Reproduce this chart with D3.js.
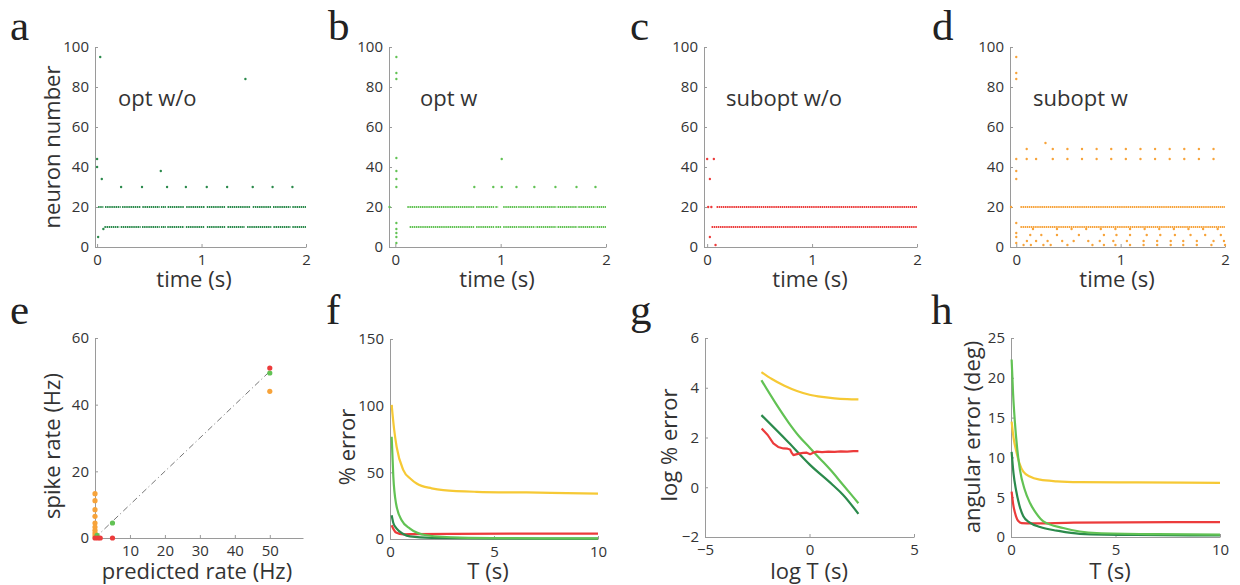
<!DOCTYPE html>
<html>
<head>
<meta charset="utf-8">
<title>Raster and error panels</title>
<script src="https://d3js.org/d3.v7.min.js"></script>
<style>
  body { margin: 0; background: #fff; }
  text { font-family: "Open Sans", sans-serif; fill: #333; }
  .letter { font-family: "Liberation Serif", serif; font-size: 43px; fill: #222; }
</style>
</head>
<body>
<script>
// colours of the four networks
const darkGreen = "#2b8a4c", lightGreen = "#62c254", red = "#ec3b3b", orange = "#f7a33a", yellow = "#f6c935";

// ---- raster data: rows = [neuron, [[t0, t1], ...]] dense spike trains, dots = [t, neuron]
const rowsA = [
  [20, [[0.01, 0.06], [0.076, 0.226], [0.239, 0.417], [0.433, 0.60], [0.611, 0.66], [0.675, 0.834], [0.853, 1.03], [1.05, 1.23], [1.248, 1.47], [1.49, 1.668], [1.684, 1.853], [1.869, 2.0]]],
  [10, [[0.07, 0.213], [0.226, 0.417], [0.43, 0.60], [0.611, 0.659], [0.672, 0.834], [0.85, 1.03], [1.051, 1.23], [1.248, 1.414], [1.436, 1.668], [1.688, 1.853], [1.869, 2.0]]]
];
const dotsA = [[0.03, 95], [0.0, 44], [0.0, 40], [0.045, 34], [0.01, 5], [0.06, 9], [1.42, 84], [0.61, 38],
  [0.23, 30], [0.43, 30], [0.67, 30], [0.85, 30], [1.05, 30], [1.245, 30], [1.49, 30], [1.68, 30], [1.87, 30]];

const rowsB = [
  [20, [[0.114, 0.754], [0.767, 0.938], [0.95, 0.976], [1.024, 1.157], [1.166, 1.33], [1.34, 1.528], [1.54, 1.727], [1.737, 1.901], [1.911, 2.0]]],
  [10, [[0.136, 0.754], [0.767, 0.938], [0.95, 1.005], [1.024, 1.157], [1.166, 1.33], [1.34, 1.528], [1.54, 1.727], [1.737, 1.901], [1.911, 2.0]]]
];
const dotsB = [[0.01, 95], [0.01, 87], [0.01, 84], [0.01, 44.5], [0.01, 38], [0.01, 34], [0.01, 30], [0.01, 12], [0.01, 9], [0.01, 7], [0.01, 5], [0.01, 2], [-0.055, 20],
  [0.75, 30], [0.93, 30], [1.01, 30], [1.15, 30], [1.32, 30], [1.52, 30], [1.72, 30], [1.90, 30], [1.01, 44]];

const rowsC = [
  [20, [[0.09, 2.0]]],
  [10, [[0.042, 2.0]]]
];
const dotsC = [[0.01, 20], [0.04, 20], [0.0, 44], [0.064, 44], [0.026, 34], [0.026, 5], [0.08, 1]];

const rowsD = [
  [20, [[0.04, 2.0]]],
  [10, [[0.04, 2.0]]]
];
const dotsD = [[-0.05, 20], [0.0, 95], [0.0, 87], [0.0, 84], [0.0, 38], [0.0, 34], [0.0, 12], [0.0, 7], [0.0, 5], [0.0, 2], [0.28, 52]];
const d49 = [0.10, 0.35, 0.49, 0.63, 0.77, 0.91, 1.05, 1.19, 1.33, 1.47, 1.61, 1.75, 1.89];
const d44 = [0.0, 0.10, 0.19, 0.35, 0.49, 0.63, 0.77, 0.91, 1.05, 1.19, 1.33, 1.47, 1.61, 1.75, 1.89];
const d9 = [0.16, 0.39, 0.53, 0.67, 0.81, 0.95, 1.09, 1.23, 1.37, 1.51, 1.65, 1.79, 1.93];
const d6 = [0.134, 0.24, 0.39, 0.6, 0.84, 0.96, 1.09, 1.25, 1.38, 1.52, 1.67, 1.81, 1.96];
const d3t = [0.102, 0.19, 0.30, 0.44, 0.55, 0.69, 0.80, 0.93, 1.06, 1.22, 1.35, 1.48, 1.60, 1.73, 1.89, 1.99];
const d1 = [0.07, 0.14, 0.26, 0.33, 0.49, 0.73, 0.84, 0.95, 1.09, 1.22, 1.35, 1.48, 1.60, 1.73, 1.87, 2.0];

// ---- panel e: [predicted, measured] rates
const eOrange = [[0, 13.3], [0, 11.2], [0, 8.5], [0, 6.5], [0, 4.5], [0, 3.3], [0, 2.3], [0, 1.5], [0, 0.7], [50, 44]];
const eGreen = [[50, 49.5], [5, 4.5], [0.6, 0.8]];
const eRed = [[50, 51], [0, 0], [0.8, 0], [1.5, 0], [5, 0]];
const eDiag = [[0, 0], [50, 50]];

// ---- panel f: % error vs T
const fYellow = [[0.08, 100.6], [0.2, 82], [0.32, 69], [0.64, 51.7], [1.0, 45], [1.28, 41.6], [2.0, 38], [2.56, 36.6], [4.16, 35.4], [6.56, 34.9], [10, 34.1]];
const fLight = [[0.08, 76.7], [0.16, 46.6], [0.29, 26.6], [0.56, 14], [0.96, 7.8], [1.76, 2.8], [3.36, 1], [6, 0.6], [10, 0.4]];
const fDark = [[0.08, 17.8], [0.16, 12], [0.32, 7.8], [0.64, 3.8], [0.96, 2], [2, 0.8], [5, 0.4], [10, 0.3]];
const fRed = [[0.08, 10.3], [0.18, 7], [0.29, 4.8], [0.64, 3.5], [1.2, 3.7], [3, 3.9], [6, 4], [10, 4]];

// ---- panel g: log % error vs log T
const gYellow = [[-2.3, 4.63], [-1.8, 4.35], [-1.2, 4.08], [-0.6, 3.87], [0, 3.72], [0.6, 3.63], [1.2, 3.57], [1.8, 3.54], [2.34, 3.53]];
const gLight = [[-2.3, 4.3], [-1.6, 3.35], [-1.0, 2.6], [-0.5, 2.05], [0, 1.6], [0.5, 1.15], [1.0, 0.7], [1.6, 0.1], [2.34, -0.64]];
const gDark = [[-2.3, 2.9], [-1.0, 1.8], [0, 0.92], [1.1, 0.1], [1.6, -0.3], [2.34, -1.07]];
const gRed = [[-2.29, 2.36], [-2.0, 2.1], [-1.73, 1.76], [-1.5, 1.62], [-1.25, 1.56], [-1.05, 1.55], [-0.93, 1.52], [-0.85, 1.38], [-0.77, 1.29],
  [-0.6, 1.33], [-0.45, 1.36], [-0.3, 1.38], [-0.13, 1.39], [0.03, 1.33], [0.15, 1.38], [0.35, 1.43], [0.6, 1.41], [0.9, 1.43],
  [1.2, 1.42], [1.5, 1.44], [1.8, 1.43], [2.1, 1.45], [2.34, 1.45]];

// ---- panel h: angular error vs T
const hLight = [[0.03, 22.3], [0.1, 18], [0.19, 14.3], [0.3, 11], [0.43, 8.4], [0.65, 6], [0.91, 4.26], [1.2, 3], [1.55, 1.96], [2.5, 1.13], [4.1, 0.5], [7, 0.35], [10, 0.3]];
const hYellow = [[0.03, 14.5], [0.12, 12.5], [0.24, 10.9], [0.4, 9.3], [0.59, 8.2], [0.9, 7.6], [1.39, 7.2], [2.2, 7.0], [3.3, 6.9], [6, 6.85], [10, 6.8]];
const hDark = [[0.03, 10.7], [0.12, 8], [0.24, 5.9], [0.4, 4], [0.59, 2.6], [0.9, 1.8], [1.39, 1.25], [2.2, 0.8], [3.3, 0.4], [6, 0.25], [10, 0.2]];
const hRed = [[0.03, 5.7], [0.1, 4.2], [0.24, 2.6], [0.35, 2.0], [0.51, 1.75], [1, 1.7], [3, 1.8], [10, 1.88]];

const svg = d3.select("body").append("svg")
  .attr("width", 1240)
  .attr("height", 585);

// draw left + bottom axes, MATLAB style ticks pointing inwards
function drawAxes(x, y, xTicks, yTicks) {
  const fmt = d3.format("~g");
  const gx = svg.append("g")
    .attr("transform", `translate(0,${y.range()[0]})`)
    .call(d3.axisBottom(x).tickValues(xTicks).tickFormat(fmt).tickSizeInner(-3).tickSizeOuter(0).tickPadding(7));
  const gy = svg.append("g")
    .attr("transform", `translate(${x.range()[0]},0)`)
    .call(d3.axisLeft(y).tickValues(yTicks).tickFormat(fmt).tickSizeInner(-3).tickSizeOuter(0).tickPadding(6));
  [gx, gy].forEach(g => {
    g.attr("font-size", 15);
    g.select(".domain").attr("stroke", "#9a9a9a");
    g.selectAll(".tick line").attr("stroke", "#9a9a9a");
  });
}

function xTitle(txt, cx, yb) {
  svg.append("text").attr("x", cx).attr("y", yb)
    .attr("text-anchor", "middle").attr("font-size", 22).text(txt);
}

function yTitle(txt, xb, cy) {
  svg.append("text")
    .attr("transform", `translate(${xb},${cy}) rotate(-90)`)
    .attr("text-anchor", "middle").attr("font-size", 22).text(txt);
}

function letter(txt, lx, ly) {
  svg.append("text").attr("class", "letter").attr("x", lx).attr("y", ly).text(txt);
}

// ---------------- top row: rasters
const rasters = [
  { rows: rowsA, dots: dotsA, color: darkGreen, dom: [-0.02, 2], rng: [95, 306], label: "opt w/o", lx: 118, tx: 194, letter: "a", letX: 10 },
  { rows: rowsB, dots: dotsB, color: lightGreen, dom: [-0.06, 2], rng: [389, 606], label: "opt w", lx: 420, tx: 497, letter: "b", letX: 328 },
  { rows: rowsC, dots: dotsC, color: red, dom: [-0.03, 2], rng: [704, 917], label: "subopt w/o", lx: 726, tx: 810, letter: "c", letX: 630 },
  { rows: rowsD, dots: dotsD, color: orange, dom: [-0.06, 2], rng: [1010, 1225], label: "subopt w", lx: 1033, tx: 1117, letter: "d", letX: 932 }
];

rasters.forEach((p, i) => {
  const x = d3.scaleLinear().domain(p.dom).range(p.rng);
  const y = d3.scaleLinear().domain([0, 100]).range([247, 47]);
  drawAxes(x, y, [0, 1, 2], [0, 20, 40, 60, 80, 100]);

  let dots = p.dots;
  if (i === 3) {
    dots = dots.concat(d49.map(t => [t, 49]), d44.map(t => [t, 44]), d9.map(t => [t, 9]),
      d6.map(t => [t, 6]), d3t.map(t => [t, 3]), d1.map(t => [t, 1]));
  }

  // dense spike trains as dotted segments
  const segs = [];
  p.rows.forEach(r => r[1].forEach(s => segs.push({ n: r[0], t0: s[0], t1: s[1] })));
  svg.append("g").selectAll("line")
    .data(segs)
    .enter()
    .append("line")
    .attr("x1", d => x(d.t0))
    .attr("x2", d => x(d.t1))
    .attr("y1", d => y(d.n))
    .attr("y2", d => y(d.n))
    .attr("stroke", p.color)
    .attr("stroke-width", 2)
    .attr("stroke-dasharray", "1.5,0.6");

  svg.append("g").selectAll("circle")
    .data(dots)
    .enter()
    .append("circle")
    .attr("cx", d => x(d[0]))
    .attr("cy", d => y(d[1]))
    .attr("r", 1.2)
    .attr("fill", p.color);

  svg.append("text").attr("x", p.lx).attr("y", 106).attr("font-size", 22).text(p.label);
  xTitle("time (s)", p.tx, 287);
  letter(p.letter, p.letX, 40);
});
yTitle("neuron number", 60, 147);

// ---------------- panel e
{
  const x = d3.scaleLinear().domain([0, 59.5]).range([95, 303]);
  const y = d3.scaleLinear().domain([0, 60]).range([538, 338]);
  drawAxes(x, y, [10, 20, 30, 40, 50], [0, 20, 40, 60]);

  svg.append("path")
    .datum(eDiag)
    .attr("d", d3.line().x(d => x(d[0])).y(d => y(d[1])))
    .attr("stroke", "#777")
    .attr("stroke-width", 1)
    .attr("stroke-dasharray", "6,3,1,3")
    .attr("fill", "none");

  [[eOrange, orange], [eGreen, lightGreen], [eRed, red]].forEach(([data, c]) => {
    svg.append("g").selectAll("circle")
      .data(data)
      .enter()
      .append("circle")
      .attr("cx", d => x(d[0]))
      .attr("cy", d => y(d[1]))
      .attr("r", 2.6)
      .attr("fill", c);
  });

  xTitle("predicted rate (Hz)", 197, 579);
  yTitle("spike rate (Hz)", 60, 446);
  letter("e", 10, 324);
}

// ---------------- line panels f, g, h
function linePanel(cfg) {
  const x = d3.scaleLinear().domain(cfg.xd).range(cfg.xr);
  const y = d3.scaleLinear().domain(cfg.yd).range([cfg.yr[0], cfg.yr[1]]);
  drawAxes(x, y, cfg.xt, cfg.yt);
  cfg.series.forEach(s => {
    svg.append("path")
      .datum(s.data)
      .attr("d", d3.line().x(d => x(d[0])).y(d => y(d[1])).curve(s.curve || d3.curveMonotoneX))
      .attr("stroke", s.color)
      .attr("stroke-width", 2.2)
      .attr("stroke-linejoin", "round")
      .attr("fill", "none");
  });
  xTitle(cfg.xl, cfg.tx, 579);
  yTitle(cfg.yl, cfg.yx, cfg.ty);
  letter(cfg.letter, cfg.letX, 324);
}

linePanel({
  xd: [0, 10], xr: [390, 598], yd: [0, 150], yr: [539, 339], xt: [0, 5, 10], yt: [0, 50, 100, 150],
  series: [{ data: fYellow, color: yellow }, { data: fRed, color: red }, { data: fDark, color: darkGreen }, { data: fLight, color: lightGreen }],
  xl: "T (s)", tx: 488, yl: "% error", yx: 355, ty: 447, letter: "f", letX: 326
});

linePanel({
  xd: [-5, 5], xr: [705, 914], yd: [-2, 6], yr: [537, 338], xt: [-5, 0, 5], yt: [-2, 0, 2, 4, 6],
  series: [{ data: gYellow, color: yellow }, { data: gLight, color: lightGreen }, { data: gDark, color: darkGreen }, { data: gRed, color: red, curve: d3.curveLinear }],
  xl: "log T (s)", tx: 809, yl: "log % error", yx: 677, ty: 445, letter: "g", letX: 630
});

linePanel({
  xd: [0, 10], xr: [1011, 1220], yd: [0, 25], yr: [537, 338], xt: [0, 5, 10], yt: [0, 5, 10, 15, 20, 25],
  series: [{ data: hYellow, color: yellow }, { data: hRed, color: red }, { data: hDark, color: darkGreen }, { data: hLight, color: lightGreen }],
  xl: "T (s)", tx: 1110, yl: "angular error (deg)", yx: 980, ty: 437, letter: "h", letX: 931
});
</script>
</body>
</html>
